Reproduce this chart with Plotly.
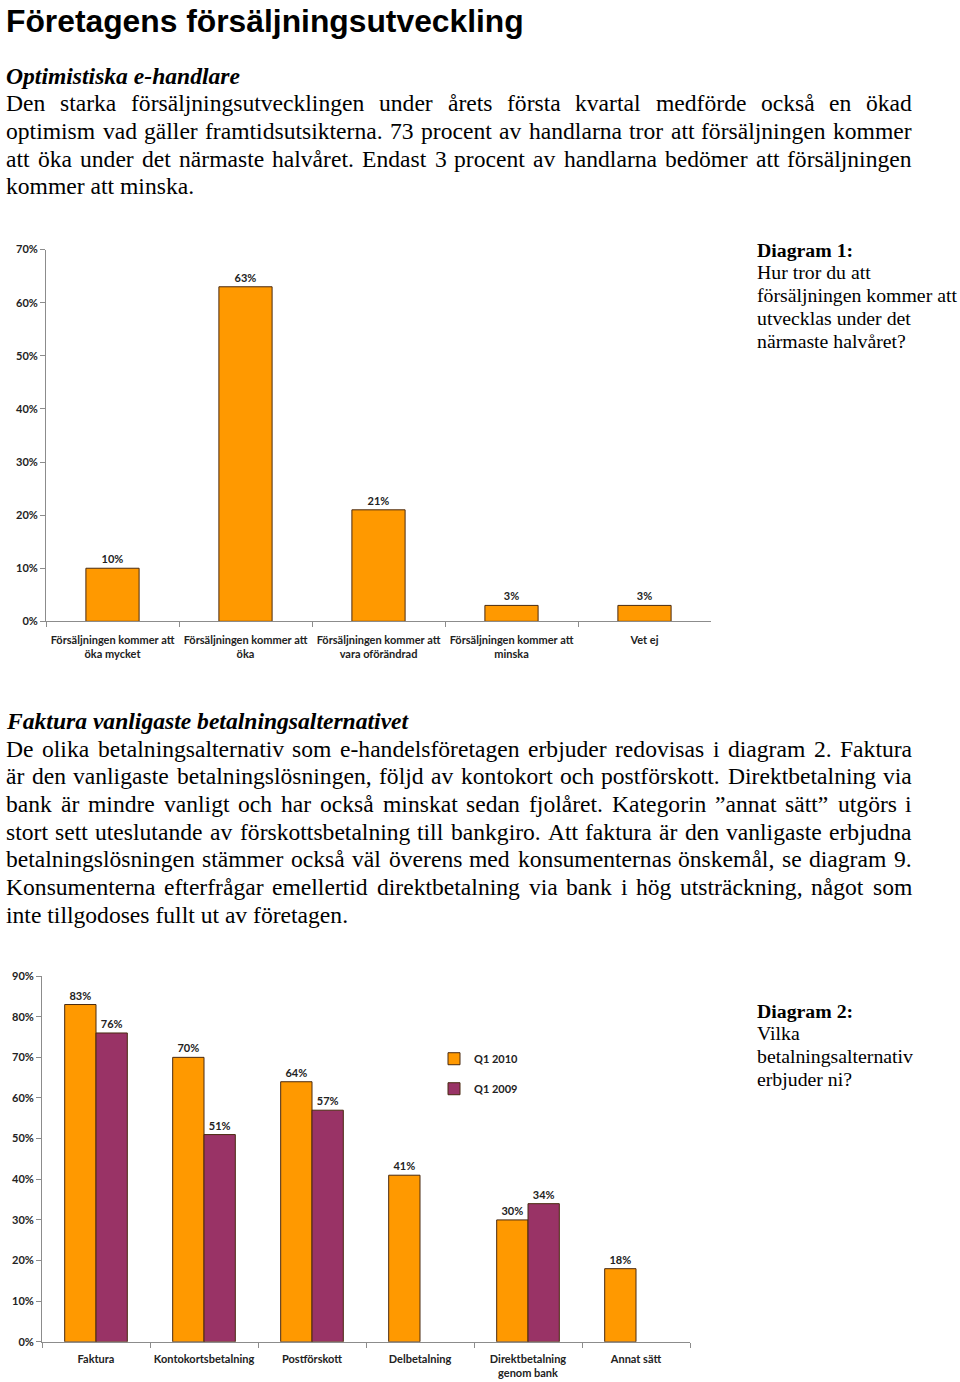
import plotly.graph_objects as go

# ---------------- data ----------------
c1_categories = ["Försäljningen kommer att<br>öka mycket", "Försäljningen kommer att<br>öka",
                 "Försäljningen kommer att<br>vara oförändrad", "Försäljningen kommer att<br>minska", "Vet ej"]
c1_values = [0.10, 0.63, 0.21, 0.03, 0.03]
c1_ticks = [0, 0.1, 0.2, 0.3, 0.4, 0.5, 0.6, 0.7]

c2_categories = ["Faktura", "Kontokortsbetalning", "Postförskott", "Delbetalning",
                 "Direktbetalning<br>genom bank", "Annat sätt"]
c2_q1_2010 = [0.83, 0.70, 0.64, 0.41, 0.30, 0.18]
c2_q1_2009 = [0.76, 0.51, 0.57, None, 0.34, None]
c2_ticks = [0, 0.1, 0.2, 0.3, 0.4, 0.5, 0.6, 0.7, 0.8, 0.9]

title = "Företagens försäljningsutveckling"
heading1 = "Optimistiska e-handlare"
para1 = [
    "Den starka försäljningsutvecklingen under årets första kvartal medförde också en ökad",
    "optimism vad gäller framtidsutsikterna. 73 procent av handlarna tror att försäljningen kommer",
    "att öka under det närmaste halvåret. Endast 3 procent av handlarna bedömer att försäljningen",
    "kommer att minska.",
]
heading2 = "Faktura vanligaste betalningsalternativet"
para2 = [
    "De olika betalningsalternativ som e-handelsföretagen erbjuder redovisas i diagram 2. Faktura",
    "är den vanligaste betalningslösningen, följd av kontokort och postförskott. Direktbetalning via",
    "bank är mindre vanligt och har också minskat sedan fjolåret. Kategorin ”annat sätt” utgörs i",
    "stort sett uteslutande av förskottsbetalning till bankgiro. Att faktura är den vanligaste erbjudna",
    "betalningslösningen stämmer också väl överens med konsumenternas önskemål, se diagram 9.",
    "Konsumenterna efterfrågar emellertid direktbetalning via bank i hög utsträckning, något som",
    "inte tillgodoses fullt ut av företagen.",
]
side1 = ["Hur tror du att", "försäljningen kommer att", "utvecklas under det", "närmaste halvåret?"]
side2 = ["Vilka", "betalningsalternativ", "erbjuder ni?"]

# ---------------- styling ----------------
W, H = 960, 1382
ORANGE = "#FF9900"
PURPLE = "#993366"
EDGE = "#4A2A10"
AXIS = "#8C8C8C"
CHART_FONT = "Lato"
SERIF = "Liberation Serif"
BODY = 23.6

def Y(p):  # compensate the page's vertical rendering offset/scale
    return (p - 7.91) / 0.98856

def py(p):  # pixel y -> paper y
    return 1 - Y(p) / H

def px(p):
    return p / W

# Times-Roman advance widths (per 1000 em) used to justify body text
TW = dict(a=444, b=500, c=444, d=500, e=444, f=333, g=500, h=500, i=278, j=278, k=500, l=278, m=778,
          n=500, o=500, p=500, q=500, r=333, s=389, t=278, u=500, v=500, w=722, x=500, y=500, z=444,
          A=722, B=667, C=667, D=722, E=611, F=556, G=722, H=722, I=333, J=389, K=722, L=611, M=889,
          N=722, O=722, P=556, R=667, S=556, T=611, U=722, V=722)
TW.update({" ": 250, ".": 250, ",": 250, "-": 333, ":": 278, "?": 444, "”": 444,
           "å": 444, "ä": 444, "ö": 500, "é": 444})
for d in "0123456789":
    TW[d] = 500

def tw(s, size):
    return sum(TW.get(ch, 500) for ch in s) * size / 1000

fig = go.Figure()

lab_font = dict(family=CHART_FONT, size=11, color="#222", weight="bold")

fig.add_trace(go.Bar(
    x=c1_categories, y=c1_values, xaxis="x", yaxis="y",
    marker=dict(color=ORANGE, line=dict(color=EDGE, width=1)),
    text=[f"{round(v*100)}%" for v in c1_values], textposition="outside",
    textfont=lab_font, cliponaxis=False, showlegend=False, width=0.4,
))
fig.add_trace(go.Bar(
    x=c2_categories, y=c2_q1_2010, xaxis="x2", yaxis="y2", name="Q1 2010",
    marker=dict(color=ORANGE, line=dict(color=EDGE, width=1)),
    text=[f"{round(v*100)}%" if v is not None else "" for v in c2_q1_2010], textposition="outside",
    textfont=lab_font, cliponaxis=False, legendgroup="a", offsetgroup="a",
))
fig.add_trace(go.Bar(
    x=c2_categories, y=c2_q1_2009, xaxis="x2", yaxis="y2", name="Q1 2009",
    marker=dict(color=PURPLE, line=dict(color=EDGE, width=1)),
    text=[f"{round(v*100)}%" if v is not None else "" for v in c2_q1_2009], textposition="outside",
    textfont=lab_font, cliponaxis=False, legendgroup="b", offsetgroup="b",
))

axis_common = dict(showline=True, linecolor=AXIS, linewidth=1, showgrid=False, zeroline=False,
                   ticks="outside", tickcolor=AXIS, ticklen=5, tickfont=lab_font)

fig.update_layout(
    width=W, height=H, margin=dict(l=0, r=0, t=0, b=0),
    paper_bgcolor="white", plot_bgcolor="white",
    barmode="group", bargap=0.42, bargroupgap=0,
    xaxis=dict(domain=[px(46), px(711)], tickson="boundaries", anchor="y", ticklabelstandoff=8,
               tickangle=0, **axis_common),
    yaxis=dict(domain=[py(621), py(250)], range=[0, 0.70], tickvals=c1_ticks, tickformat=".0%",
               anchor="x", **axis_common),
    xaxis2=dict(domain=[px(42), px(690)], tickson="boundaries", anchor="y2", ticklabelstandoff=7,
                tickangle=0, **axis_common),
    yaxis2=dict(domain=[py(1340), py(975)], range=[0, 0.90], tickvals=c2_ticks, tickformat=".0%",
                anchor="x2", **axis_common),
    legend=dict(x=px(434), y=py(1043), xanchor="left", yanchor="top", tracegroupgap=11,
                font=lab_font, bgcolor="rgba(0,0,0,0)", itemwidth=30),
    showlegend=True,
)

ann = []

def text(x, y, s, size, family, bold=False, italic=False, xanchor="left"):
    if bold:
        s = f"<b>{s}</b>"
    if italic:
        s = f"<i>{s}</i>"
    ann.append(dict(x=px(x), y=py(y), xref="paper", yref="paper", text=s, showarrow=False,
                    xanchor=xanchor, yanchor="middle",
                    font=dict(family=family, size=size, color="black")))

def justified(y, line, size, left=4, right=910):
    words = line.split(" ")
    widths = [tw(w, size) for w in words]
    gap = (right - left - sum(widths)) / (len(words) - 1)
    x = left
    for w, wd in zip(words, widths):
        text(x, y, w, size, SERIF)
        x += wd + gap

LH = 27.6
text(4, 22, title, 31.8, "Liberation Sans", bold=True)
text(4, 77, heading1, BODY, SERIF, bold=True, italic=True)
for i, line in enumerate(para1):
    if i < len(para1) - 1:
        justified(104 + i * LH, line, BODY)
    else:
        text(4, 104 + i * LH, line, BODY, SERIF)
text(4, 720, heading2, BODY, SERIF, bold=True, italic=True)
for i, line in enumerate(para2):
    if i < len(para2) - 1:
        justified(748 + i * LH, line, BODY)
    else:
        text(4, 748 + i * LH, line, BODY, SERIF)

SIDE = 19.8
text(755, 250, "Diagram 1:", SIDE, SERIF, bold=True)
for i, line in enumerate(side1):
    text(755, 272 + i * 23, line, SIDE, SERIF)
text(755, 1010, "Diagram 2:", SIDE, SERIF, bold=True)
for i, line in enumerate(side2):
    text(755, 1032 + i * 23, line, SIDE, SERIF)

fig.update_layout(annotations=ann)
fig.write_html("out.html")
